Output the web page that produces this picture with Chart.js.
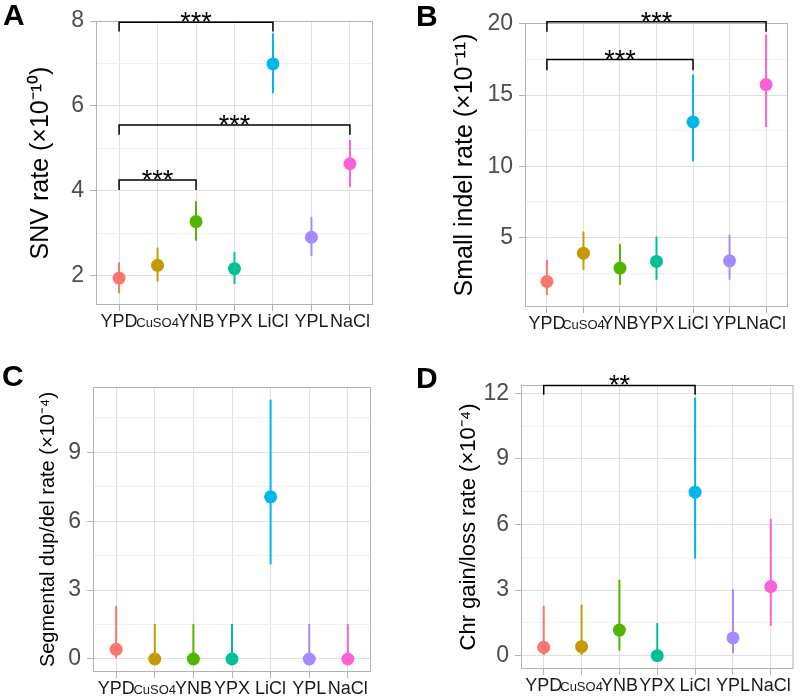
<!DOCTYPE html>
<html>
<head>
<meta charset="utf-8">
<script src="https://cdn.jsdelivr.net/npm/chart.js@4.4.1/dist/chart.umd.min.js"></script>
<style>
  body { margin: 0; background: #fff; }
  #wrap { position: relative; width: 800px; height: 699px; overflow: hidden; }
  canvas { position: absolute; }
  .tag { position: absolute; font: bold 30px "Liberation Sans", Arial, sans-serif; line-height: 30px; color: #000; }
</style>
</head>
<body>
<div id="wrap">
  <canvas id="pA" width="400" height="340" style="left:0;top:0"></canvas>
  <canvas id="pB" width="400" height="340" style="left:400px;top:0"></canvas>
  <canvas id="pC" width="400" height="359" style="left:0;top:340px"></canvas>
  <canvas id="pD" width="400" height="359" style="left:400px;top:340px"></canvas>
  <div class="tag" style="left:3px;top:0">A</div>
  <div class="tag" style="left:416px;top:1px">B</div>
  <div class="tag" style="left:2px;top:361px">C</div>
  <div class="tag" style="left:416px;top:363px">D</div>
</div>
<script>
const FONT = '"Liberation Sans", Arial, sans-serif';

// Groups and colours
const groups = ["YPD", "CuSO4", "YNB", "YPX", "LiCl", "YPL", "NaCl"];
const hues = ["#F8766D", "#C49A00", "#53B400", "#00C094", "#00B6EB", "#A58AFF", "#FB61D7"];

// A: SNV rate (x1e-10)
const snvRate = [1.95, 2.25, 3.28, 2.17, 6.99, 2.91, 4.64];
const snvLow  = [1.59, 1.87, 2.83, 1.81, 6.30, 2.47, 4.09];
const snvHigh = [2.32, 2.67, 3.76, 2.56, 7.71, 3.39, 5.20];
const snvTicks = [2, 4, 6, 8];
const snvMinor = [3, 5, 7];
const snvSig = [
  { from: 0, to: 4, y: 7.97, tip: 7.75, label: "***" },
  { from: 0, to: 6, y: 5.55, tip: 5.32, label: "***" },
  { from: 0, to: 2, y: 4.26, tip: 4.02, label: "***" }
];

// B: small indel rate (x1e-11)
const indelRate = [1.92, 3.91, 2.86, 3.33, 13.12, 3.37, 15.74];
const indelLow  = [0.98, 2.74, 1.69, 2.04, 10.35, 2.04, 12.76];
const indelHigh = [3.44, 5.43, 4.54, 5.08, 16.44, 5.20, 19.25];
const indelTicks = [5, 10, 15, 20];
const indelMinor = [2.5, 7.5, 12.5, 17.5];
const indelSig = [
  { from: 0, to: 6, y: 20.14, tip: 19.44, label: "***" },
  { from: 0, to: 4, y: 17.49, tip: 16.74, label: "***" }
];

// C: segmental dup/del rate (x1e-4)
const segRate = [0.42, 0, 0, 0, 7.06, 0, 0];
const segLow  = [0.03, 0, 0, 0, 4.12, 0, 0];
const segHigh = [2.30, 1.52, 1.52, 1.52, 11.29, 1.52, 1.52];
const segTicks = [0, 3, 6, 9];
const segMinor = [1.5, 4.5, 7.5, 10.5];

// D: chr gain/loss rate (x1e-4)
const chrRate = [0.38, 0.41, 1.17, 0, 7.48, 0.81, 3.16];
const chrLow  = [0.03, 0.03, 0.23, 0, 4.44, 0.11, 1.37];
const chrHigh = [2.28, 2.33, 3.47, 1.49, 11.81, 3.04, 6.26];
const chrTicks = [0, 3, 6, 9, 12];
const chrMinor = [1.5, 4.5, 7.5, 10.5];
const chrSig = [
  { from: 0, to: 4, y: 12.36, tip: 11.93, label: "**" }
];

// border, error bars, significance brackets
const panelPlugin = {
  id: "panel",
  beforeDatasetsDraw(chart, args, opts) {
    const { ctx, chartArea: a, scales: { x, y } } = chart;
    ctx.save();
    ctx.strokeStyle = "#b3b3b3";
    ctx.lineWidth = 1;
    ctx.strokeRect(a.left + 0.5, a.top + 0.5, a.right - a.left - 1, a.bottom - a.top - 1);
    ctx.lineWidth = 2;
    opts.low.forEach((lo, i) => {
      const px = x.getPixelForValue(i);
      ctx.strokeStyle = hues[i];
      ctx.beginPath();
      ctx.moveTo(px, y.getPixelForValue(lo));
      ctx.lineTo(px, y.getPixelForValue(opts.high[i]));
      ctx.stroke();
    });
    ctx.restore();
  },
  afterDraw(chart, args, opts) {
    const { ctx, scales: { x, y } } = chart;
    ctx.save();
    ctx.strokeStyle = "#000";
    ctx.fillStyle = "#000";
    ctx.lineWidth = 1.5;
    ctx.font = "27px " + FONT;
    ctx.textAlign = "center";
    ctx.textBaseline = "alphabetic";
    (opts.sig || []).forEach(s => {
      const x1 = x.getPixelForValue(s.from), x2 = x.getPixelForValue(s.to);
      const yl = y.getPixelForValue(s.y), yt = y.getPixelForValue(s.tip);
      ctx.beginPath();
      ctx.moveTo(x1, yt);
      ctx.lineTo(x1, yl);
      ctx.lineTo(x2, yl);
      ctx.lineTo(x2, yt);
      ctx.stroke();
      ctx.fillText(s.label, (x1 + x2) / 2, yl + 9);
    });
    ctx.restore();
  }
};

function makePanel(id, p) {
  const canvas = document.getElementById(id);
  const W = canvas.width, H = canvas.height;
  const all = p.major.concat(p.minor).sort((a, b) => a - b);
  const isMajor = v => p.major.includes(v);
  new Chart(canvas, {
    type: "scatter",
    data: {
      datasets: [{
        data: p.rate.map((v, i) => ({ x: i, y: v })),
        pointRadius: 6.5,
        pointHoverRadius: 6.5,
        pointBorderWidth: 0,
        pointBackgroundColor: hues
      }]
    },
    options: {
      responsive: false,
      animation: false,
      events: [],
      layout: { padding: { left: 0, top: p.area.t, right: W - p.area.r, bottom: 0 } },
      plugins: {
        legend: { display: false },
        tooltip: { enabled: false },
        panel: { low: p.low, high: p.high, sig: p.sig }
      },
      scales: {
        x: {
          type: "linear", min: -0.6, max: 6.6,
          afterBuildTicks: s => { s.ticks = groups.map((g, i) => ({ value: i })); },
          afterFit: s => { s.height = H - p.area.b; s.paddingLeft = 0; s.paddingRight = 0; },
          ticks: {
            autoSkip: false, maxRotation: 0, padding: 0, color: "#1a1a1a",
            callback: (v, i) => groups[i],
            font: c => c.index === 1 ? { family: FONT, size: 13, lineHeight: "25px" } : { family: FONT, size: 18, lineHeight: "21.6px" }
          },
          grid: { color: "#e0e0e0", tickColor: "#b3b3b3", tickLength: 6 },
          border: { display: false }
        },
        y: {
          type: "linear", min: p.min, max: p.max,
          afterBuildTicks: s => { s.ticks = all.map(v => ({ value: v })); },
          afterFit: s => { s.width = p.area.l; s.paddingTop = 0; s.paddingBottom = 0; },
          ticks: {
            padding: 6, color: "#4d4d4d",
            font: { family: FONT, size: 23 },
            callback: v => isMajor(v) ? String(v) : ""
          },
          grid: {
            color: c => isMajor(c.tick.value) ? "#e0e0e0" : "#f0f0f0",
            tickColor: c => isMajor(c.tick.value) ? "#b3b3b3" : "rgba(0,0,0,0)",
            tickLength: 6
          },
          border: { display: false },
          title: {
            display: true, text: p.title, color: "#000",
            font: { family: FONT, size: p.titleSize },
            padding: { top: p.titlePad, bottom: 0 }
          }
        }
      }
    },
    plugins: [panelPlugin]
  });
}

makePanel("pA", {
  rate: snvRate, low: snvLow, high: snvHigh, major: snvTicks, minor: snvMinor, sig: snvSig,
  min: 1.316, max: 8.0, area: { l: 96, r: 373, t: 21, b: 305 },
  title: "SNV rate (×10⁻¹⁰)", titleSize: 25, titlePad: 26
});
makePanel("pB", {
  rate: indelRate, low: indelLow, high: indelHigh, major: indelTicks, minor: indelMinor, sig: indelSig,
  min: 0.13, max: 20.06, area: { l: 125, r: 388, t: 23, b: 307 },
  title: "Small indel rate (×10⁻¹¹)", titleSize: 25, titlePad: 50
});
makePanel("pC", {
  rate: segRate, low: segLow, high: segHigh, major: segTicks, minor: segMinor, sig: [],
  min: -0.566, max: 11.84, area: { l: 93, r: 371, t: 47, b: 332 },
  title: "Segmental dup/del rate (×10⁻⁴)", titleSize: 20, titlePad: 36
});
makePanel("pD", {
  rate: chrRate, low: chrLow, high: chrHigh, major: chrTicks, minor: chrMinor, sig: chrSig,
  min: -0.61, max: 12.38, area: { l: 121, r: 395, t: 45, b: 329 },
  title: "Chr gain/loss rate (×10⁻⁴)", titleSize: 22, titlePad: 56
});
</script>
</body>
</html>
